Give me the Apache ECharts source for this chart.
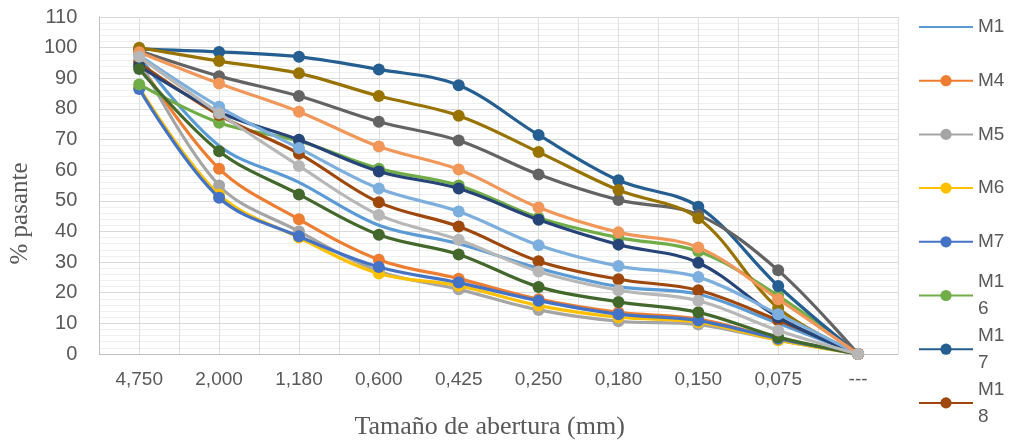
<!DOCTYPE html>
<html>
<head>
<meta charset="utf-8">
<script src="https://cdn.jsdelivr.net/npm/echarts@6/dist/echarts.min.js"></script>
<style>
html,body{margin:0;padding:0;background:#fff;}
#chart{width:1010px;height:445px;}
</style>
</head>
<body>
<div id="chart"></div>
<script>
const categories = ['4,750','2,000','1,180','0,600','0,425','0,250','0,180','0,150','0,075','---'];
const yTicks = [0,10,20,30,40,50,60,70,80,90,100,110];

const M1  = [97, 68, 56, 42, 36, 28, 22, 19.5, 10, 0];
const M4  = [95, 60.5, 44, 30.8, 24.6, 17.9, 13.6, 11.4, 5, 0];
const M5  = [96, 55, 40, 27, 21.1, 14.4, 10.7, 9.6, 4.5, 0];
const M6  = [87, 52, 38, 26.3, 22.3, 15.8, 12, 10.4, 4.5, 0];
const M7  = [86.5, 51, 38.4, 28.4, 23.3, 17.4, 13, 10.9, 5, 0];
const M16 = [88, 75.5, 69.5, 60.5, 55, 44.5, 38, 33.5, 19, 0];
const M17 = [99.5, 98.6, 97, 92.9, 87.7, 71.5, 56.7, 48.1, 22.2, 0];
const M18 = [95, 78, 65.4, 49.5, 41.6, 30.3, 24.4, 20.8, 11, 0];
const M19 = [99, 90.7, 84.2, 75.8, 69.7, 58.6, 50.3, 45.4, 27.3, 0];
const M20 = [100, 95.6, 91.6, 84.2, 77.8, 65.9, 53.5, 44.3, 15, 0];
const M21 = [94, 79, 69.9, 59.6, 54, 43.8, 35.7, 29.8, 12, 0];
const M22 = [93, 66.2, 52.1, 38.9, 32.5, 21.9, 17, 13.6, 5.5, 0];
const M23 = [97.5, 80.7, 67.2, 54, 46.5, 35.5, 28.7, 25.1, 13, 0];
const M24 = [98.5, 88.3, 79.1, 67.7, 60.2, 47.8, 39.7, 34.8, 17.9, 0];
const M25 = [97, 78.6, 61.4, 45.4, 37.3, 26.9, 20.8, 17.4, 7.7, 0];

const seriesNames = ['M1','M4','M5','M6','M7','M16','M17','M18','M19','M20','M21','M22','M23','M24','M25'];
const seriesData = [M1,M4,M5,M6,M7,M16,M17,M18,M19,M20,M21,M22,M23,M24,M25];
const seriesColors = ['#5b9bd5','#ed7d31','#a5a5a5','#ffc000','#4472c4','#70ad47','#255e91','#9e480e',
  '#636363','#997300','#264478','#43682b','#7cafdd','#f1975a','#b7b7b7'];
const legendNames = ['M1','M4','M5','M6','M7','M16','M17','M18'];

const chart = echarts.init(document.getElementById('chart'), null, {renderer:'canvas'});

const series = seriesNames.map((n, i) => ({
  name: n,
  type: 'line',
  xAxisIndex: 0,
  yAxisIndex: 0,
  data: seriesData[i],
  smooth: 0.35,
  symbol: i === 0 ? 'none' : 'circle',
  symbolSize: 12,
  showSymbol: i !== 0,
  color: seriesColors[i],
  lineStyle: { width: 3.2, color: seriesColors[i] },
  itemStyle: { color: seriesColors[i] },
  z: 2 + i,
  animation: false
}));

const legends = legendNames.map((n, i) => {
  const center = 27 + i * 53.7;
  const wrapped = n.length > 2;
  const item = i === 0 ? { name: n, itemStyle: { opacity: 0 } } : { name: n };
  return {
    data: [item],
    orient: 'vertical',
    left: 918,
    top: wrapped ? center - 40.5 : center - 11,
    padding: 0,
    itemWidth: 54,
    itemHeight: 14,
    itemGap: 0,
    formatter: (name) => name.length > 2 ? name.slice(0, 2) + '\n' + name.slice(2) : name,
    textStyle: wrapped ? {
      color: '#595959', fontSize: 19, fontFamily: 'Liberation Sans, Arial, sans-serif',
      lineHeight: 27, padding: [27, 0, 0, 0]
    } : {
      color: '#595959', fontSize: 19, fontFamily: 'Liberation Sans, Arial, sans-serif',
      lineHeight: 22
    }
  };
});

const option = {
  backgroundColor: '#ffffff',
  animation: false,
  grid: { left: 97, right: 112, top: 17, bottom: 88, containLabel: false },
  legend: legends,
  xAxis: [
    {
      type: 'category',
      data: categories,
      boundaryGap: true,
      axisLine: { show: true, lineStyle: { color: '#bfbfbf', width: 1 } },
      axisTick: { show: false },
      axisLabel: { color: '#595959', fontSize: 19, margin: 16, fontFamily: 'Liberation Sans, Arial, sans-serif', interval: 0 },
      splitLine: { show: false },
      name: 'Tamaño de abertura (mm)',
      nameLocation: 'middle',
      nameGap: 60,
      nameTextStyle: { color: '#595959', fontSize: 26, fontFamily: 'Liberation Serif, Times New Roman, serif', padding: [0, 18, 0, 0] }
    },
    {
      type: 'value',
      min: 0, max: 20, interval: 1,
      position: 'bottom',
      axisLine: { show: false }, axisTick: { show: false }, axisLabel: { show: false },
      splitLine: { show: true, lineStyle: { color: '#dedede', width: 1 } }
    }
  ],
  yAxis: {
    type: 'value',
    min: 0, max: 110, interval: 10,
    axisLine: { show: true, lineStyle: { color: '#bfbfbf', width: 1 } },
    axisTick: { show: false },
    axisLabel: { color: '#595959', fontSize: 20, margin: 22, fontFamily: 'Liberation Sans, Arial, sans-serif' },
    splitLine: { show: true, lineStyle: { color: '#d9d9d9', width: 1 } },
    minorTick: { show: false, splitNumber: 5 },
    minorSplitLine: { show: true, lineStyle: { color: '#efefef', width: 1 } },
    name: '% pasante',
    nameLocation: 'middle',
    nameGap: 43,
    nameTextStyle: { color: '#595959', fontSize: 25, fontFamily: 'Liberation Serif, Times New Roman, serif', padding: [0, 56, 0, 0] }
  },
  series: series
};
chart.setOption(option);
</script>
</body>
</html>
